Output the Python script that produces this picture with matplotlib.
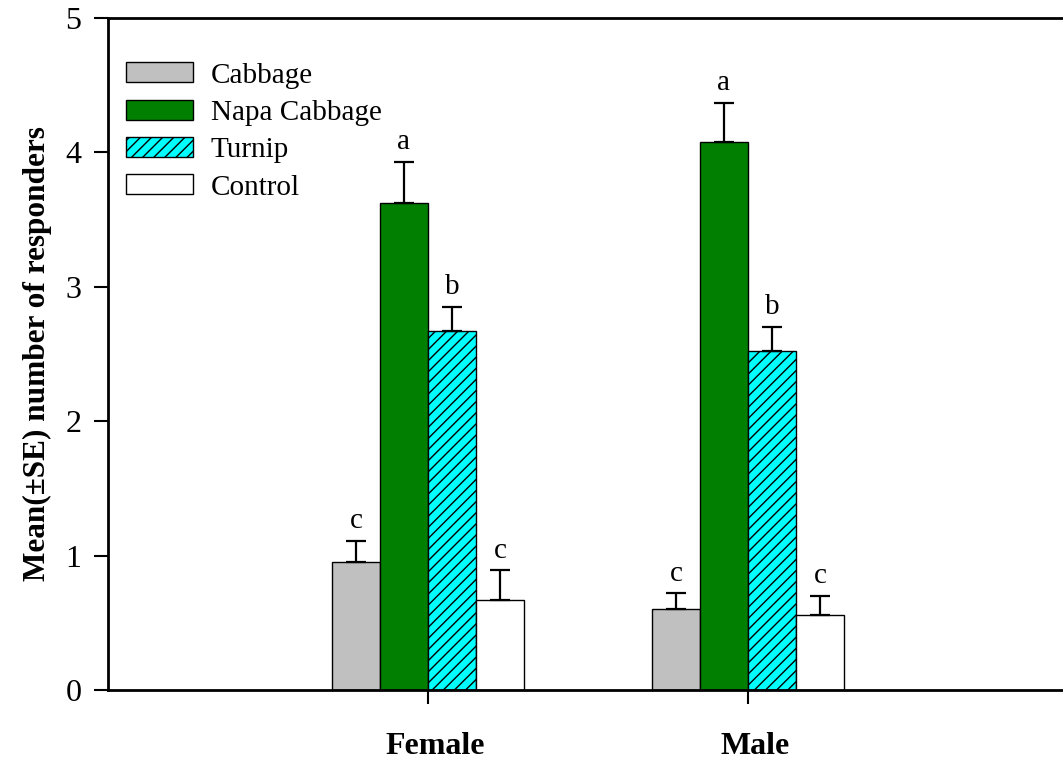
import matplotlib
matplotlib.use("Agg")
import matplotlib.pyplot as plt
import matplotlib.transforms as mtransforms
import numpy as np

plt.rcParams['font.family'] = ['Liberation Serif', 'DejaVu Serif']
plt.rcParams['hatch.linewidth'] = 1.0

groups = ["Female", "Male"]
series = ["Cabbage", "Napa Cabbage", "Turnip", "Control"]
means = {
    "Cabbage": [0.95, 0.60],
    "Napa Cabbage": [3.62, 4.08],
    "Turnip": [2.67, 2.52],
    "Control": [0.67, 0.56],
}
ses = {
    "Cabbage": [0.16, 0.12],
    "Napa Cabbage": [0.31, 0.29],
    "Turnip": [0.18, 0.18],
    "Control": [0.22, 0.14],
}
letters = {
    "Cabbage": ["c", "c"],
    "Napa Cabbage": ["a", "a"],
    "Turnip": ["b", "b"],
    "Control": ["c", "c"],
}
colors = {"Cabbage": "#C0C0C0", "Napa Cabbage": "#007F00",
          "Turnip": "#00FFFF", "Control": "#FFFFFF"}
hatches = {"Cabbage": None, "Napa Cabbage": None, "Turnip": "///", "Control": None}

fig = plt.figure(figsize=(10.63, 7.64), dpi=100)
ax = fig.add_axes([108/1063, 74/764, 960/1063, 672/764])

x = np.array([1.0, 2.0])
w = 0.15
offsets = [-1.5*w, -0.5*w, 0.5*w, 1.5*w]
for s, off in zip(series, offsets):
    ax.bar(x + off, means[s], width=w, color=colors[s], edgecolor="black",
           linewidth=1.0, hatch=hatches[s], label=s, zorder=2)
    ax.errorbar(x + off, means[s], yerr=[np.zeros(2), ses[s]], fmt="none",
                ecolor="black", elinewidth=1.6, capsize=7, capthick=1.6, zorder=3)
    for xi, m, e, l in zip(x + off, means[s], ses[s], letters[s]):
        ax.text(xi, m + e + 0.05, l, ha="center", va="bottom", fontsize=21)

ax.set_xlim(0, 3)
ax.set_ylim(0, 5)
ax.set_yticks([0, 1, 2, 3, 4, 5])
ax.set_xticks(x)
ax.set_xticklabels(groups, fontsize=23, fontweight="bold")
ax.tick_params(axis="x", length=10, width=1.5, direction="out", pad=20)
ax.tick_params(axis="y", length=10, width=1.5, direction="out", labelsize=23, pad=9)
shift = mtransforms.ScaledTranslation(7/100, 0, fig.dpi_scale_trans)
for lab in ax.get_xticklabels():
    lab.set_transform(lab.get_transform() + shift)
for sp in ["left", "bottom", "top"]:
    ax.spines[sp].set_linewidth(2)
ax.spines["right"].set_visible(False)
ax.set_ylabel("Mean(±SE) number of responders", fontsize=22.5, fontweight="bold", labelpad=10)

leg = ax.legend(loc="upper left", frameon=False,
                fontsize=21, handlelength=2.3, handleheight=0.68,
                handletextpad=0.6, labelspacing=0.38, borderaxespad=0.0,
                borderpad=0.0)
leg.set_bbox_to_anchor((18/960, 0.934), transform=ax.transAxes)

fig.savefig("out.png", dpi=100)
